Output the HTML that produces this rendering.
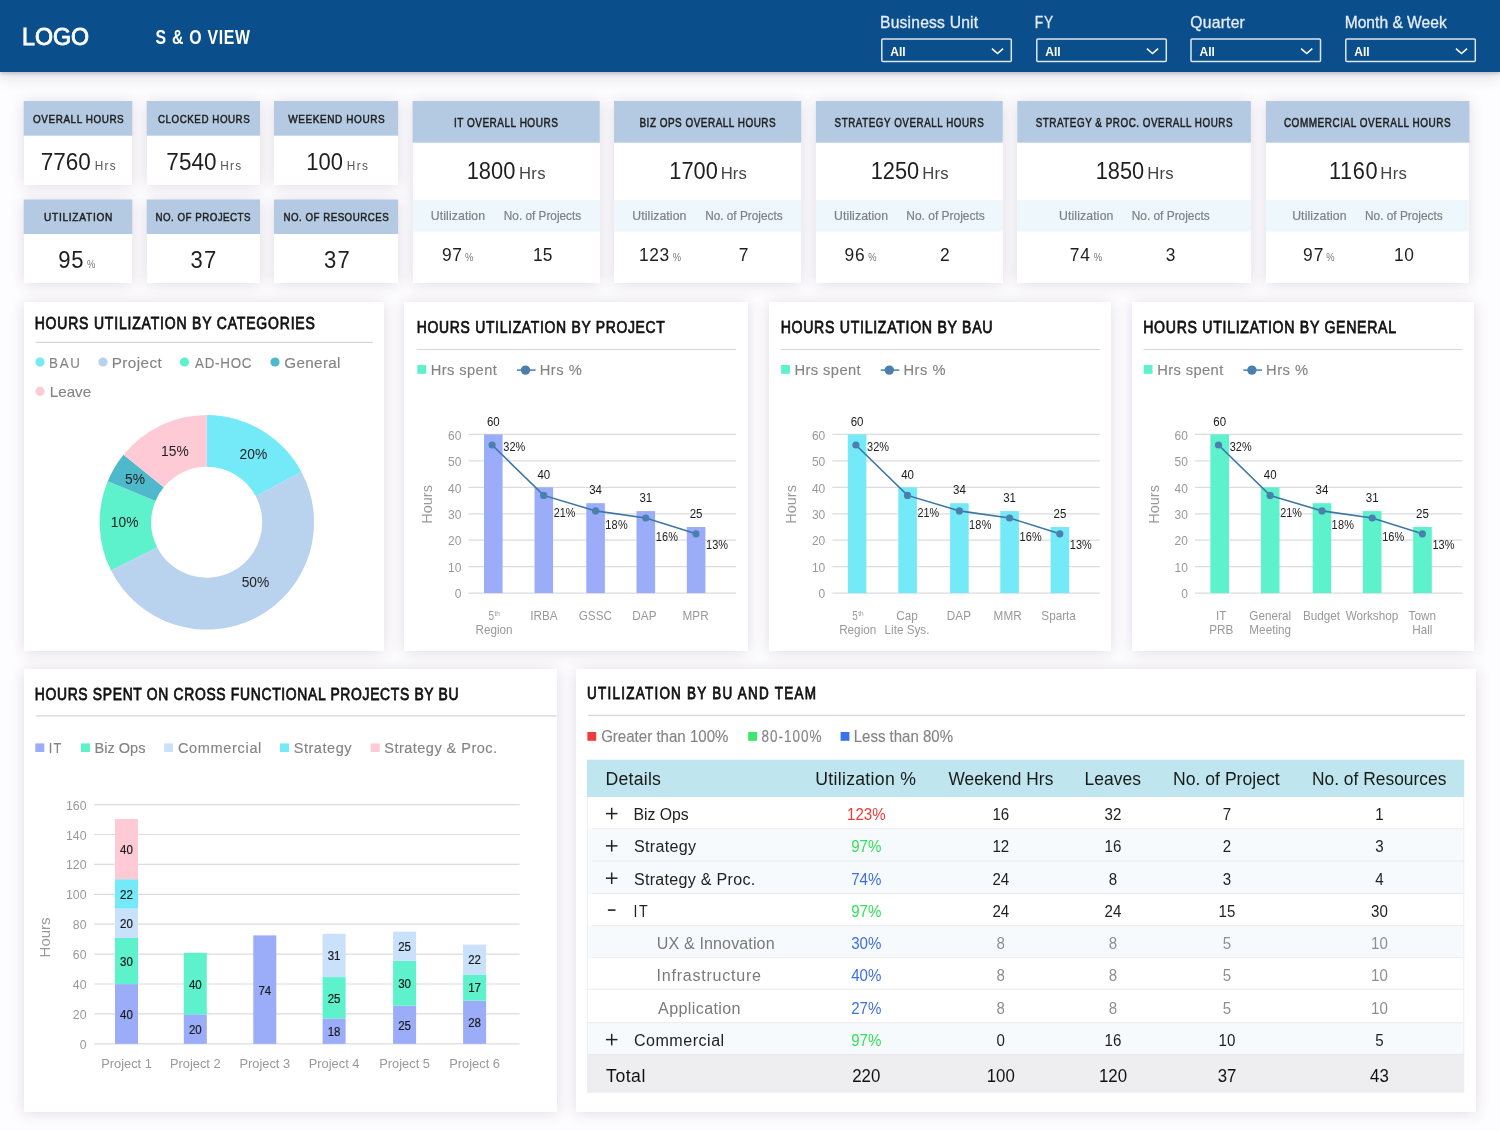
<!DOCTYPE html>
<html><head><meta charset="utf-8"><title>S &amp; O View Dashboard</title>
<style>
html,body{margin:0;padding:0;}
body{width:1500px;height:1131px;overflow:hidden;background:#FDFCFE;font-family:"Liberation Sans", sans-serif;position:relative;}
.hdr{position:absolute;background:#0A4E8B;box-shadow:0 2px 3px rgba(40,40,60,.18),0 5px 14px rgba(40,40,60,.14);z-index:2}
.card{position:absolute;background:#fff;box-shadow:0 1px 14px rgba(60,50,90,.15);}
svg.ov{position:absolute;left:0;top:0;z-index:3;font-family:"Liberation Sans", sans-serif;will-change:transform;}
</style></head><body>
<div class="hdr" style="left:0.0px;top:0.0px;width:1500.0px;height:72.0px;"></div>
<div class="card" style="left:23.7px;top:101.0px;width:108.6px;height:83.7px;"></div>
<div class="card" style="left:23.7px;top:199.5px;width:108.6px;height:83.1px;"></div>
<div class="card" style="left:146.7px;top:101.0px;width:113.3px;height:83.7px;"></div>
<div class="card" style="left:146.7px;top:199.5px;width:113.3px;height:83.1px;"></div>
<div class="card" style="left:274.0px;top:101.0px;width:124.1px;height:83.7px;"></div>
<div class="card" style="left:274.0px;top:199.5px;width:124.1px;height:83.1px;"></div>
<div class="card" style="left:412.6px;top:101.0px;width:187.2px;height:182.3px;"></div>
<div class="card" style="left:614.0px;top:101.0px;width:187.2px;height:182.3px;"></div>
<div class="card" style="left:815.9px;top:101.0px;width:186.9px;height:182.3px;"></div>
<div class="card" style="left:1017.2px;top:101.0px;width:233.7px;height:182.3px;"></div>
<div class="card" style="left:1265.9px;top:101.0px;width:203.5px;height:182.3px;"></div>
<div class="card" style="left:23.8px;top:302.0px;width:360.0px;height:349.2px;"></div>
<div class="card" style="left:404.3px;top:302.3px;width:343.8px;height:348.9px;"></div>
<div class="card" style="left:768.5px;top:302.3px;width:342.3px;height:348.9px;"></div>
<div class="card" style="left:1131.8px;top:302.3px;width:342.5px;height:348.9px;"></div>
<div class="card" style="left:23.7px;top:668.7px;width:533.0px;height:443.3px;"></div>
<div class="card" style="left:575.8px;top:668.7px;width:900.2px;height:442.9px;"></div>
<svg class="ov" width="1500" height="1131" viewBox="0 0 1500 1131">
<text transform="translate(22.10,45.00) scale(0.9385,1)" x="0" y="0" textLength="71.40" lengthAdjust="spacing" font-size="24.71" fill="#fff" stroke="#fff" stroke-width="0.9">LOGO</text>
<text transform="translate(155.54,44.00) scale(0.7774,1)" x="0" y="0" textLength="121.53" lengthAdjust="spacing" font-size="20.35" fill="#fff" font-weight="bold">S &amp; O VIEW</text>
<text transform="translate(880.01,28.40) scale(0.9800,1)" x="0" y="0" textLength="100.10" lengthAdjust="spacing" font-size="15.99" fill="#E6EDF5" stroke="#E6EDF5" stroke-width="0.3">Business Unit</text>
<rect x="881.8" y="38.9" width="129.5" height="22.6" fill="none" stroke="#E1E6EE" stroke-width="1.5" rx="1"/>
<text transform="translate(890.30,55.50) scale(0.9183,1)" x="0" y="0" textLength="16.72" lengthAdjust="spacing" font-size="13.08" fill="#fff" font-weight="bold">All</text>
<path d="M991.9 48.6 L997.5 53.6 L1003.1 48.6" fill="none" stroke="#fff" stroke-width="1.5"/>
<text transform="translate(1034.87,28.40) scale(0.8600,1)" x="0" y="0" textLength="21.43" lengthAdjust="spacing" font-size="15.99" fill="#E6EDF5" stroke="#E6EDF5" stroke-width="0.3">FY</text>
<rect x="1036.8" y="38.9" width="129.5" height="22.6" fill="none" stroke="#E1E6EE" stroke-width="1.5" rx="1"/>
<text transform="translate(1045.30,55.50) scale(0.9183,1)" x="0" y="0" textLength="16.72" lengthAdjust="spacing" font-size="13.08" fill="#fff" font-weight="bold">All</text>
<path d="M1146.9 48.6 L1152.5 53.6 L1158.1 48.6" fill="none" stroke="#fff" stroke-width="1.5"/>
<text transform="translate(1190.36,28.40) scale(0.9800,1)" x="0" y="0" textLength="55.61" lengthAdjust="spacing" font-size="15.99" fill="#E6EDF5" stroke="#E6EDF5" stroke-width="0.3">Quarter</text>
<rect x="1191.0" y="38.9" width="129.5" height="22.6" fill="none" stroke="#E1E6EE" stroke-width="1.5" rx="1"/>
<text transform="translate(1199.50,55.50) scale(0.9183,1)" x="0" y="0" textLength="16.72" lengthAdjust="spacing" font-size="13.08" fill="#fff" font-weight="bold">All</text>
<path d="M1301.1 48.6 L1306.7 53.6 L1312.3 48.6" fill="none" stroke="#fff" stroke-width="1.5"/>
<text transform="translate(1344.72,28.40) scale(0.9723,1)" x="0" y="0" textLength="104.85" lengthAdjust="spacing" font-size="15.99" fill="#E6EDF5" stroke="#E6EDF5" stroke-width="0.3">Month &amp; Week</text>
<rect x="1345.8" y="38.9" width="129.5" height="22.6" fill="none" stroke="#E1E6EE" stroke-width="1.5" rx="1"/>
<text transform="translate(1354.30,55.50) scale(0.9183,1)" x="0" y="0" textLength="16.72" lengthAdjust="spacing" font-size="13.08" fill="#fff" font-weight="bold">All</text>
<path d="M1455.9 48.6 L1461.5 53.6 L1467.1 48.6" fill="none" stroke="#fff" stroke-width="1.5"/>
<rect x="23.7" y="101.0" width="108.6" height="34.7" fill="#B4CAE2"/>
<rect x="23.7" y="199.5" width="108.6" height="34.5" fill="#B4CAE2"/>
<rect x="146.7" y="101.0" width="113.3" height="34.7" fill="#B4CAE2"/>
<rect x="146.7" y="199.5" width="113.3" height="34.5" fill="#B4CAE2"/>
<rect x="274.0" y="101.0" width="124.1" height="34.7" fill="#B4CAE2"/>
<rect x="274.0" y="199.5" width="124.1" height="34.5" fill="#B4CAE2"/>
<text transform="translate(33.03,122.70) scale(0.8435,1)" x="0" y="0" textLength="107.55" lengthAdjust="spacing" font-size="11.77" fill="#1E1E1E" stroke="#1E1E1E" stroke-width="0.5">OVERALL HOURS</text>
<text transform="translate(158.00,122.70) scale(0.8314,1)" x="0" y="0" textLength="110.35" lengthAdjust="spacing" font-size="11.77" fill="#1E1E1E" stroke="#1E1E1E" stroke-width="0.5">CLOCKED HOURS</text>
<text transform="translate(288.36,122.70) scale(0.8508,1)" x="0" y="0" textLength="113.20" lengthAdjust="spacing" font-size="11.77" fill="#1E1E1E" stroke="#1E1E1E" stroke-width="0.5">WEEKEND HOURS</text>
<text transform="translate(44.02,221.20) scale(0.8600,1)" x="0" y="0" textLength="79.43" lengthAdjust="spacing" font-size="11.77" fill="#1E1E1E" stroke="#1E1E1E" stroke-width="0.5">UTILIZATION</text>
<text transform="translate(155.50,221.20) scale(0.8299,1)" x="0" y="0" textLength="114.53" lengthAdjust="spacing" font-size="11.77" fill="#1E1E1E" stroke="#1E1E1E" stroke-width="0.5">NO. OF PROJECTS</text>
<text transform="translate(283.50,221.20) scale(0.8274,1)" x="0" y="0" textLength="127.20" lengthAdjust="spacing" font-size="11.77" fill="#1E1E1E" stroke="#1E1E1E" stroke-width="0.5">NO. OF RESOURCES</text>
<text transform="translate(40.75,169.80) scale(0.9102,1)" x="0" y="0" textLength="54.97" lengthAdjust="spacing" font-size="24.71" fill="#1E1E1E">7760</text>
<text transform="translate(94.63,169.80) scale(0.9800,1)" x="0" y="0" textLength="21.43" lengthAdjust="spacing" font-size="12.06" fill="#555">Hrs</text>
<text transform="translate(166.34,169.80) scale(0.9121,1)" x="0" y="0" textLength="54.97" lengthAdjust="spacing" font-size="24.71" fill="#1E1E1E">7540</text>
<text transform="translate(220.23,169.80) scale(0.9800,1)" x="0" y="0" textLength="21.43" lengthAdjust="spacing" font-size="12.06" fill="#555">Hrs</text>
<text transform="translate(306.32,169.80) scale(0.8911,1)" x="0" y="0" textLength="41.23" lengthAdjust="spacing" font-size="24.71" fill="#1E1E1E">100</text>
<text transform="translate(346.83,169.80) scale(0.9800,1)" x="0" y="0" textLength="21.43" lengthAdjust="spacing" font-size="12.06" fill="#555">Hrs</text>
<text transform="translate(58.37,267.80) scale(0.9200,1)" x="0" y="0" textLength="27.35" lengthAdjust="spacing" font-size="23.98" fill="#1E1E1E">95</text>
<text transform="translate(87.07,267.80) scale(0.8600,1)" x="0" y="0" textLength="12.17" lengthAdjust="spacing" font-size="10.90" fill="#777">%</text>
<text transform="translate(190.46,267.80) scale(0.9200,1)" x="0" y="0" textLength="27.99" lengthAdjust="spacing" font-size="23.98" fill="#1E1E1E">37</text>
<text transform="translate(324.06,267.80) scale(0.9200,1)" x="0" y="0" textLength="27.99" lengthAdjust="spacing" font-size="23.98" fill="#1E1E1E">37</text>
<rect x="412.6" y="101.0" width="187.2" height="41.7" fill="#B4CAE2"/>
<rect x="412.6" y="200.0" width="187.2" height="31.6" fill="#EEF7FB"/>
<text transform="translate(453.88,126.60) scale(0.8299,1)" x="0" y="0" textLength="125.30" lengthAdjust="spacing" font-size="12.06" fill="#1E1E1E" stroke="#1E1E1E" stroke-width="0.5">IT OVERALL HOURS</text>
<text transform="translate(466.63,179.10) scale(0.9133,1)" x="0" y="0" textLength="53.35" lengthAdjust="spacing" font-size="23.98" fill="#1E1E1E">1800</text>
<text transform="translate(518.93,179.10) scale(0.9800,1)" x="0" y="0" textLength="27.21" lengthAdjust="spacing" font-size="17.01" fill="#444">Hrs</text>
<text transform="translate(430.75,220.20) scale(0.9800,1)" x="0" y="0" textLength="55.45" lengthAdjust="spacing" font-size="12.50" fill="#7C8286" stroke="#7C8286" stroke-width="0.2">Utilization</text>
<text transform="translate(503.83,220.20) scale(0.9429,1)" x="0" y="0" textLength="81.98" lengthAdjust="spacing" font-size="12.50" fill="#7C8286" stroke="#7C8286" stroke-width="0.2">No. of Projects</text>
<text transform="translate(441.99,261.00) scale(0.9200,1)" x="0" y="0" textLength="21.62" lengthAdjust="spacing" font-size="18.90" fill="#1E1E1E">97</text>
<text transform="translate(464.97,261.00) scale(0.8600,1)" x="0" y="0" textLength="11.24" lengthAdjust="spacing" font-size="10.90" fill="#777">%</text>
<text transform="translate(532.98,261.00) scale(0.9200,1)" x="0" y="0" textLength="21.04" lengthAdjust="spacing" font-size="18.90" fill="#1E1E1E">15</text>
<rect x="614.0" y="101.0" width="187.2" height="41.7" fill="#B4CAE2"/>
<rect x="614.0" y="200.0" width="187.2" height="31.6" fill="#EEF7FB"/>
<text transform="translate(639.48,126.60) scale(0.8255,1)" x="0" y="0" textLength="164.96" lengthAdjust="spacing" font-size="12.06" fill="#1E1E1E" stroke="#1E1E1E" stroke-width="0.5">BIZ OPS OVERALL HOURS</text>
<text transform="translate(669.34,179.10) scale(0.9093,1)" x="0" y="0" textLength="53.35" lengthAdjust="spacing" font-size="23.98" fill="#1E1E1E">1700</text>
<text transform="translate(720.63,179.10) scale(0.9800,1)" x="0" y="0" textLength="26.81" lengthAdjust="spacing" font-size="17.01" fill="#444">Hrs</text>
<text transform="translate(632.35,220.20) scale(0.9800,1)" x="0" y="0" textLength="55.14" lengthAdjust="spacing" font-size="12.50" fill="#7C8286" stroke="#7C8286" stroke-width="0.2">Utilization</text>
<text transform="translate(705.13,220.20) scale(0.9454,1)" x="0" y="0" textLength="81.98" lengthAdjust="spacing" font-size="12.50" fill="#7C8286" stroke="#7C8286" stroke-width="0.2">No. of Projects</text>
<text transform="translate(638.98,261.00) scale(0.9200,1)" x="0" y="0" textLength="32.70" lengthAdjust="spacing" font-size="18.90" fill="#1E1E1E">123</text>
<text transform="translate(672.67,261.00) scale(0.8600,1)" x="0" y="0" textLength="11.24" lengthAdjust="spacing" font-size="10.90" fill="#777">%</text>
<text transform="translate(738.81,261.00) scale(0.9200,1)" x="0" y="0" textLength="11.59" lengthAdjust="spacing" font-size="18.90" fill="#1E1E1E">7</text>
<rect x="815.9" y="101.0" width="186.9" height="41.7" fill="#B4CAE2"/>
<rect x="815.9" y="200.0" width="186.9" height="31.6" fill="#EEF7FB"/>
<text transform="translate(834.56,126.60) scale(0.8120,1)" x="0" y="0" textLength="183.73" lengthAdjust="spacing" font-size="12.06" fill="#1E1E1E" stroke="#1E1E1E" stroke-width="0.5">STRATEGY OVERALL HOURS</text>
<text transform="translate(870.64,179.10) scale(0.9093,1)" x="0" y="0" textLength="53.35" lengthAdjust="spacing" font-size="23.98" fill="#1E1E1E">1250</text>
<text transform="translate(922.33,179.10) scale(0.9800,1)" x="0" y="0" textLength="26.81" lengthAdjust="spacing" font-size="17.01" fill="#444">Hrs</text>
<text transform="translate(834.05,220.20) scale(0.9800,1)" x="0" y="0" textLength="55.14" lengthAdjust="spacing" font-size="12.50" fill="#7C8286" stroke="#7C8286" stroke-width="0.2">Utilization</text>
<text transform="translate(906.32,220.20) scale(0.9565,1)" x="0" y="0" textLength="81.98" lengthAdjust="spacing" font-size="12.50" fill="#7C8286" stroke="#7C8286" stroke-width="0.2">No. of Projects</text>
<text transform="translate(844.49,261.00) scale(0.9200,1)" x="0" y="0" textLength="21.93" lengthAdjust="spacing" font-size="18.90" fill="#1E1E1E">96</text>
<text transform="translate(868.27,261.00) scale(0.8600,1)" x="0" y="0" textLength="11.59" lengthAdjust="spacing" font-size="10.90" fill="#777">%</text>
<text transform="translate(940.03,261.00) scale(0.9200,1)" x="0" y="0" textLength="12.12" lengthAdjust="spacing" font-size="18.90" fill="#1E1E1E">2</text>
<rect x="1017.2" y="101.0" width="233.7" height="41.7" fill="#B4CAE2"/>
<rect x="1017.2" y="200.0" width="233.7" height="31.6" fill="#EEF7FB"/>
<text transform="translate(1035.65,126.60) scale(0.8181,1)" x="0" y="0" textLength="240.67" lengthAdjust="spacing" font-size="12.06" fill="#1E1E1E" stroke="#1E1E1E" stroke-width="0.5">STRATEGY &amp; PROC. OVERALL HOURS</text>
<text transform="translate(1095.64,179.10) scale(0.9093,1)" x="0" y="0" textLength="53.35" lengthAdjust="spacing" font-size="23.98" fill="#1E1E1E">1850</text>
<text transform="translate(1147.33,179.10) scale(0.9800,1)" x="0" y="0" textLength="26.81" lengthAdjust="spacing" font-size="17.01" fill="#444">Hrs</text>
<text transform="translate(1058.95,220.20) scale(0.9800,1)" x="0" y="0" textLength="55.55" lengthAdjust="spacing" font-size="12.50" fill="#7C8286" stroke="#7C8286" stroke-width="0.2">Utilization</text>
<text transform="translate(1131.73,220.20) scale(0.9503,1)" x="0" y="0" textLength="81.98" lengthAdjust="spacing" font-size="12.50" fill="#7C8286" stroke="#7C8286" stroke-width="0.2">No. of Projects</text>
<text transform="translate(1069.71,261.00) scale(0.9200,1)" x="0" y="0" textLength="21.85" lengthAdjust="spacing" font-size="18.90" fill="#1E1E1E">74</text>
<text transform="translate(1093.67,261.00) scale(0.8600,1)" x="0" y="0" textLength="11.59" lengthAdjust="spacing" font-size="10.90" fill="#777">%</text>
<text transform="translate(1165.64,261.00) scale(0.9200,1)" x="0" y="0" textLength="11.66" lengthAdjust="spacing" font-size="18.90" fill="#1E1E1E">3</text>
<rect x="1265.9" y="101.0" width="203.5" height="41.7" fill="#B4CAE2"/>
<rect x="1265.9" y="200.0" width="203.5" height="31.6" fill="#EEF7FB"/>
<text transform="translate(1283.89,126.60) scale(0.8271,1)" x="0" y="0" textLength="201.74" lengthAdjust="spacing" font-size="12.06" fill="#1E1E1E" stroke="#1E1E1E" stroke-width="0.5">COMMERCIAL OVERALL HOURS</text>
<text transform="translate(1329.04,179.10) scale(0.9093,1)" x="0" y="0" textLength="53.35" lengthAdjust="spacing" font-size="23.98" fill="#1E1E1E">1160</text>
<text transform="translate(1380.33,179.10) scale(0.9800,1)" x="0" y="0" textLength="27.11" lengthAdjust="spacing" font-size="17.01" fill="#444">Hrs</text>
<text transform="translate(1292.15,220.20) scale(0.9800,1)" x="0" y="0" textLength="55.45" lengthAdjust="spacing" font-size="12.50" fill="#7C8286" stroke="#7C8286" stroke-width="0.2">Utilization</text>
<text transform="translate(1365.03,220.20) scale(0.9466,1)" x="0" y="0" textLength="81.98" lengthAdjust="spacing" font-size="12.50" fill="#7C8286" stroke="#7C8286" stroke-width="0.2">No. of Projects</text>
<text transform="translate(1302.99,261.00) scale(0.9200,1)" x="0" y="0" textLength="22.16" lengthAdjust="spacing" font-size="18.90" fill="#1E1E1E">97</text>
<text transform="translate(1326.37,261.00) scale(0.8600,1)" x="0" y="0" textLength="11.71" lengthAdjust="spacing" font-size="10.90" fill="#777">%</text>
<text transform="translate(1394.08,261.00) scale(0.9200,1)" x="0" y="0" textLength="21.53" lengthAdjust="spacing" font-size="18.90" fill="#1E1E1E">10</text>
<text transform="translate(34.65,329.20) scale(0.8600,1)" x="0" y="0" textLength="325.80" lengthAdjust="spacing" font-size="16.28" fill="#111" stroke="#111" stroke-width="0.75">HOURS UTILIZATION BY CATEGORIES</text>
<line x1="35.8" y1="342.3" x2="372.9" y2="342.3" stroke="#D6D6D8" stroke-width="1.2"/>
<circle cx="40.0" cy="362.0" r="4.6" fill="#74E9F8"/>
<text transform="translate(49.10,367.90) scale(0.8600,1)" x="0" y="0" textLength="35.96" lengthAdjust="spacing" font-size="15.55" fill="#848484" stroke="#848484" stroke-width="0.15">BAU</text>
<circle cx="103.0" cy="362.0" r="4.6" fill="#B9D2EE"/>
<text transform="translate(111.75,367.90) scale(0.9800,1)" x="0" y="0" textLength="51.08" lengthAdjust="spacing" font-size="15.55" fill="#848484" stroke="#848484" stroke-width="0.15">Project</text>
<circle cx="184.5" cy="362.0" r="4.6" fill="#5DF2CC"/>
<text transform="translate(194.97,367.90) scale(0.8577,1)" x="0" y="0" textLength="65.91" lengthAdjust="spacing" font-size="15.55" fill="#848484" stroke="#848484" stroke-width="0.15">AD-HOC</text>
<circle cx="275.0" cy="362.0" r="4.6" fill="#4DB9CA"/>
<text transform="translate(284.23,367.90) scale(0.9800,1)" x="0" y="0" textLength="57.43" lengthAdjust="spacing" font-size="15.55" fill="#848484" stroke="#848484" stroke-width="0.15">General</text>
<circle cx="40.0" cy="391.3" r="4.6" fill="#FECAD5"/>
<text transform="translate(49.75,397.20) scale(0.9775,1)" x="0" y="0" textLength="42.37" lengthAdjust="spacing" font-size="15.55" fill="#848484" stroke="#848484" stroke-width="0.15">Leave</text>
<path d="M206.80 415.10 A107.2 107.2 0 0 1 301.45 471.97 L255.80 496.24 A55.5 55.5 0 0 0 206.80 466.80 Z" fill="#74E9F8"/>
<path d="M301.45 471.97 A107.2 107.2 0 1 1 110.95 570.30 L157.17 547.15 A55.5 55.5 0 1 0 255.80 496.24 Z" fill="#B9D2EE"/>
<path d="M110.95 570.30 A107.2 107.2 0 0 1 107.76 481.28 L155.52 501.06 A55.5 55.5 0 0 0 157.17 547.15 Z" fill="#5DF2CC"/>
<path d="M107.76 481.28 A107.2 107.2 0 0 1 123.49 454.84 L163.67 487.37 A55.5 55.5 0 0 0 155.52 501.06 Z" fill="#4DB9CA"/>
<path d="M123.49 454.84 A107.2 107.2 0 0 1 206.80 415.10 L206.80 466.80 A55.5 55.5 0 0 0 163.67 487.37 Z" fill="#FECAD5"/>
<text transform="translate(174.90,455.60) scale(0.9500,1)" x="0" y="0" font-size="14.53" fill="#222" text-anchor="middle">15%</text>
<text transform="translate(253.40,459.20) scale(0.9500,1)" x="0" y="0" font-size="14.53" fill="#222" text-anchor="middle">20%</text>
<text transform="translate(135.00,483.80) scale(0.9500,1)" x="0" y="0" font-size="14.53" fill="#222" text-anchor="middle">5%</text>
<text transform="translate(124.60,527.10) scale(0.9500,1)" x="0" y="0" font-size="14.53" fill="#222" text-anchor="middle">10%</text>
<text transform="translate(255.50,586.50) scale(0.9500,1)" x="0" y="0" font-size="14.53" fill="#222" text-anchor="middle">50%</text>
<text transform="translate(416.86,332.90) scale(0.8336,1)" x="0" y="0" textLength="297.45" lengthAdjust="spacing" font-size="16.72" fill="#111" stroke="#111" stroke-width="0.75">HOURS UTILIZATION BY PROJECT</text>
<line x1="417.0" y1="349.5" x2="736.0" y2="349.5" stroke="#D6D6D8" stroke-width="1.2"/>
<rect x="417.3" y="365.0" width="8.8" height="8.8" fill="#5DF2CC"/>
<text transform="translate(430.80,375.20) scale(0.9800,1)" x="0" y="0" textLength="67.36" lengthAdjust="spacing" font-size="14.97" fill="#848484" stroke="#848484" stroke-width="0.15">Hrs spent</text>
<line x1="516.9" y1="370.1" x2="535.6" y2="370.1" stroke="#4B7FAE" stroke-width="1.5"/>
<circle cx="525.5" cy="370.1" r="4.7" fill="#4B7FAE"/>
<text transform="translate(539.70,375.20) scale(0.9800,1)" x="0" y="0" textLength="42.88" lengthAdjust="spacing" font-size="14.97" fill="#848484" stroke="#848484" stroke-width="0.15">Hrs %</text>
<line x1="468.5" y1="593.1" x2="736.0" y2="593.1" stroke="#DCDCDE" stroke-width="1.2"/>
<text transform="translate(461.50,598.30) scale(0.9200,1)" x="0" y="0" font-size="13.08" fill="#999999" text-anchor="end">0</text>
<line x1="468.5" y1="566.6" x2="736.0" y2="566.6" stroke="#DCDCDE" stroke-width="1.2"/>
<text transform="translate(461.50,571.85) scale(0.9200,1)" x="0" y="0" font-size="13.08" fill="#999999" text-anchor="end">10</text>
<line x1="468.5" y1="540.2" x2="736.0" y2="540.2" stroke="#DCDCDE" stroke-width="1.2"/>
<text transform="translate(461.50,545.40) scale(0.9200,1)" x="0" y="0" font-size="13.08" fill="#999999" text-anchor="end">20</text>
<line x1="468.5" y1="513.8" x2="736.0" y2="513.8" stroke="#DCDCDE" stroke-width="1.2"/>
<text transform="translate(461.50,518.95) scale(0.9200,1)" x="0" y="0" font-size="13.08" fill="#999999" text-anchor="end">30</text>
<line x1="468.5" y1="487.3" x2="736.0" y2="487.3" stroke="#DCDCDE" stroke-width="1.2"/>
<text transform="translate(461.50,492.50) scale(0.9200,1)" x="0" y="0" font-size="13.08" fill="#999999" text-anchor="end">40</text>
<line x1="468.5" y1="460.9" x2="736.0" y2="460.9" stroke="#DCDCDE" stroke-width="1.2"/>
<text transform="translate(461.50,466.05) scale(0.9200,1)" x="0" y="0" font-size="13.08" fill="#999999" text-anchor="end">50</text>
<line x1="468.5" y1="434.4" x2="736.0" y2="434.4" stroke="#DCDCDE" stroke-width="1.2"/>
<text transform="translate(461.50,439.60) scale(0.9200,1)" x="0" y="0" font-size="13.08" fill="#999999" text-anchor="end">60</text>
<text transform="translate(432.3,504.4) rotate(-90)" font-size="14.5" fill="#999999" text-anchor="middle">Hours</text>
<rect x="484.0" y="434.4" width="18.6" height="158.7" fill="#9BADF8"/>
<text transform="translate(493.30,425.60) scale(0.9200,1)" x="0" y="0" font-size="12.50" fill="#1a1a1a" text-anchor="middle">60</text>
<rect x="534.5" y="487.3" width="18.6" height="105.8" fill="#9BADF8"/>
<text transform="translate(543.80,478.50) scale(0.9200,1)" x="0" y="0" font-size="12.50" fill="#1a1a1a" text-anchor="middle">40</text>
<rect x="586.3" y="503.2" width="18.6" height="89.9" fill="#9BADF8"/>
<text transform="translate(595.60,494.37) scale(0.9200,1)" x="0" y="0" font-size="12.50" fill="#1a1a1a" text-anchor="middle">34</text>
<rect x="636.5" y="511.1" width="18.6" height="82.0" fill="#9BADF8"/>
<text transform="translate(645.80,502.31) scale(0.9200,1)" x="0" y="0" font-size="12.50" fill="#1a1a1a" text-anchor="middle">31</text>
<rect x="686.8" y="527.0" width="18.6" height="66.1" fill="#9BADF8"/>
<text transform="translate(696.10,518.18) scale(0.9200,1)" x="0" y="0" font-size="12.50" fill="#1a1a1a" text-anchor="middle">25</text>
<polyline points="492.1,445.0 543.7,495.4 595.6,510.9 645.8,518.0 696.0,533.8" fill="none" stroke="#3C76A6" stroke-width="1.6"/>
<circle cx="492.1" cy="445.0" r="3.6" fill="#4B7FAE"/>
<circle cx="543.7" cy="495.4" r="3.6" fill="#4B7FAE"/>
<circle cx="595.6" cy="510.9" r="3.6" fill="#4B7FAE"/>
<circle cx="645.8" cy="518.0" r="3.6" fill="#4B7FAE"/>
<circle cx="696.0" cy="533.8" r="3.6" fill="#4B7FAE"/>
<text transform="translate(503.28,450.50) scale(0.9200,1)" x="0" y="0" textLength="23.92" lengthAdjust="spacing" font-size="11.92" fill="#222">32%</text>
<text transform="translate(553.76,517.20) scale(0.9067,1)" x="0" y="0" textLength="23.85" lengthAdjust="spacing" font-size="11.92" fill="#222">21%</text>
<text transform="translate(605.16,528.60) scale(0.9200,1)" x="0" y="0" textLength="24.48" lengthAdjust="spacing" font-size="11.92" fill="#222">18%</text>
<text transform="translate(655.76,541.40) scale(0.9200,1)" x="0" y="0" textLength="24.05" lengthAdjust="spacing" font-size="11.92" fill="#222">16%</text>
<text transform="translate(706.07,549.30) scale(0.9191,1)" x="0" y="0" textLength="23.85" lengthAdjust="spacing" font-size="11.92" fill="#222">13%</text>
<text transform="translate(488.50,619.70) scale(0.8024,1)" x="0" y="0" textLength="6.87" lengthAdjust="spacing" font-size="12.35" fill="#999999">5</text>
<text transform="translate(494.40,615.60) scale(0.9000,1)" x="0" y="0" font-size="7.20" fill="#999999">th</text>
<text transform="translate(494.00,633.90) scale(0.9500,1)" x="0" y="0" font-size="12.35" fill="#999999" text-anchor="middle">Region</text>
<text transform="translate(544.00,619.70) scale(0.9500,1)" x="0" y="0" font-size="12.35" fill="#999999" text-anchor="middle">IRBA</text>
<text transform="translate(595.30,619.70) scale(0.9500,1)" x="0" y="0" font-size="12.35" fill="#999999" text-anchor="middle">GSSC</text>
<text transform="translate(644.40,619.70) scale(0.9500,1)" x="0" y="0" font-size="12.35" fill="#999999" text-anchor="middle">DAP</text>
<text transform="translate(695.60,619.70) scale(0.9500,1)" x="0" y="0" font-size="12.35" fill="#999999" text-anchor="middle">MPR</text>
<text transform="translate(780.64,332.90) scale(0.8458,1)" x="0" y="0" textLength="250.46" lengthAdjust="spacing" font-size="16.72" fill="#111" stroke="#111" stroke-width="0.75">HOURS UTILIZATION BY BAU</text>
<line x1="780.8" y1="349.5" x2="1099.8" y2="349.5" stroke="#D6D6D8" stroke-width="1.2"/>
<rect x="781.1" y="365.0" width="8.8" height="8.8" fill="#5DF2CC"/>
<text transform="translate(794.60,375.20) scale(0.9800,1)" x="0" y="0" textLength="67.36" lengthAdjust="spacing" font-size="14.97" fill="#848484" stroke="#848484" stroke-width="0.15">Hrs spent</text>
<line x1="880.7" y1="370.1" x2="899.4" y2="370.1" stroke="#4B7FAE" stroke-width="1.5"/>
<circle cx="889.3" cy="370.1" r="4.7" fill="#4B7FAE"/>
<text transform="translate(903.50,375.20) scale(0.9800,1)" x="0" y="0" textLength="42.88" lengthAdjust="spacing" font-size="14.97" fill="#848484" stroke="#848484" stroke-width="0.15">Hrs %</text>
<line x1="832.3" y1="593.1" x2="1099.8" y2="593.1" stroke="#DCDCDE" stroke-width="1.2"/>
<text transform="translate(825.30,598.30) scale(0.9200,1)" x="0" y="0" font-size="13.08" fill="#999999" text-anchor="end">0</text>
<line x1="832.3" y1="566.6" x2="1099.8" y2="566.6" stroke="#DCDCDE" stroke-width="1.2"/>
<text transform="translate(825.30,571.85) scale(0.9200,1)" x="0" y="0" font-size="13.08" fill="#999999" text-anchor="end">10</text>
<line x1="832.3" y1="540.2" x2="1099.8" y2="540.2" stroke="#DCDCDE" stroke-width="1.2"/>
<text transform="translate(825.30,545.40) scale(0.9200,1)" x="0" y="0" font-size="13.08" fill="#999999" text-anchor="end">20</text>
<line x1="832.3" y1="513.8" x2="1099.8" y2="513.8" stroke="#DCDCDE" stroke-width="1.2"/>
<text transform="translate(825.30,518.95) scale(0.9200,1)" x="0" y="0" font-size="13.08" fill="#999999" text-anchor="end">30</text>
<line x1="832.3" y1="487.3" x2="1099.8" y2="487.3" stroke="#DCDCDE" stroke-width="1.2"/>
<text transform="translate(825.30,492.50) scale(0.9200,1)" x="0" y="0" font-size="13.08" fill="#999999" text-anchor="end">40</text>
<line x1="832.3" y1="460.9" x2="1099.8" y2="460.9" stroke="#DCDCDE" stroke-width="1.2"/>
<text transform="translate(825.30,466.05) scale(0.9200,1)" x="0" y="0" font-size="13.08" fill="#999999" text-anchor="end">50</text>
<line x1="832.3" y1="434.4" x2="1099.8" y2="434.4" stroke="#DCDCDE" stroke-width="1.2"/>
<text transform="translate(825.30,439.60) scale(0.9200,1)" x="0" y="0" font-size="13.08" fill="#999999" text-anchor="end">60</text>
<text transform="translate(796.1,504.4) rotate(-90)" font-size="14.5" fill="#999999" text-anchor="middle">Hours</text>
<rect x="847.8" y="434.4" width="18.6" height="158.7" fill="#74E9F8"/>
<text transform="translate(857.10,425.60) scale(0.9200,1)" x="0" y="0" font-size="12.50" fill="#1a1a1a" text-anchor="middle">60</text>
<rect x="898.3" y="487.3" width="18.6" height="105.8" fill="#74E9F8"/>
<text transform="translate(907.60,478.50) scale(0.9200,1)" x="0" y="0" font-size="12.50" fill="#1a1a1a" text-anchor="middle">40</text>
<rect x="950.1" y="503.2" width="18.6" height="89.9" fill="#74E9F8"/>
<text transform="translate(959.40,494.37) scale(0.9200,1)" x="0" y="0" font-size="12.50" fill="#1a1a1a" text-anchor="middle">34</text>
<rect x="1000.3" y="511.1" width="18.6" height="82.0" fill="#74E9F8"/>
<text transform="translate(1009.60,502.31) scale(0.9200,1)" x="0" y="0" font-size="12.50" fill="#1a1a1a" text-anchor="middle">31</text>
<rect x="1050.6" y="527.0" width="18.6" height="66.1" fill="#74E9F8"/>
<text transform="translate(1059.90,518.18) scale(0.9200,1)" x="0" y="0" font-size="12.50" fill="#1a1a1a" text-anchor="middle">25</text>
<polyline points="855.9,445.0 907.5,495.4 959.4,510.9 1009.6,518.0 1059.8,533.8" fill="none" stroke="#3C76A6" stroke-width="1.6"/>
<circle cx="855.9" cy="445.0" r="3.6" fill="#4B7FAE"/>
<circle cx="907.5" cy="495.4" r="3.6" fill="#4B7FAE"/>
<circle cx="959.4" cy="510.9" r="3.6" fill="#4B7FAE"/>
<circle cx="1009.6" cy="518.0" r="3.6" fill="#4B7FAE"/>
<circle cx="1059.8" cy="533.8" r="3.6" fill="#4B7FAE"/>
<text transform="translate(867.08,450.50) scale(0.9200,1)" x="0" y="0" textLength="23.92" lengthAdjust="spacing" font-size="11.92" fill="#222">32%</text>
<text transform="translate(917.56,517.20) scale(0.9067,1)" x="0" y="0" textLength="23.85" lengthAdjust="spacing" font-size="11.92" fill="#222">21%</text>
<text transform="translate(968.96,528.60) scale(0.9200,1)" x="0" y="0" textLength="24.48" lengthAdjust="spacing" font-size="11.92" fill="#222">18%</text>
<text transform="translate(1019.56,541.40) scale(0.9200,1)" x="0" y="0" textLength="24.05" lengthAdjust="spacing" font-size="11.92" fill="#222">16%</text>
<text transform="translate(1069.87,549.30) scale(0.9191,1)" x="0" y="0" textLength="23.85" lengthAdjust="spacing" font-size="11.92" fill="#222">13%</text>
<text transform="translate(852.30,619.70) scale(0.8024,1)" x="0" y="0" textLength="6.87" lengthAdjust="spacing" font-size="12.35" fill="#999999">5</text>
<text transform="translate(858.20,615.60) scale(0.9000,1)" x="0" y="0" font-size="7.20" fill="#999999">th</text>
<text transform="translate(857.70,633.90) scale(0.9500,1)" x="0" y="0" font-size="12.35" fill="#999999" text-anchor="middle">Region</text>
<text transform="translate(907.00,619.70) scale(0.9500,1)" x="0" y="0" font-size="12.35" fill="#999999" text-anchor="middle">Cap</text>
<text transform="translate(907.00,633.90) scale(0.9500,1)" x="0" y="0" font-size="12.35" fill="#999999" text-anchor="middle">Lite Sys.</text>
<text transform="translate(958.90,619.70) scale(0.9500,1)" x="0" y="0" font-size="12.35" fill="#999999" text-anchor="middle">DAP</text>
<text transform="translate(1007.60,619.70) scale(0.9500,1)" x="0" y="0" font-size="12.35" fill="#999999" text-anchor="middle">MMR</text>
<text transform="translate(1058.60,619.70) scale(0.9500,1)" x="0" y="0" font-size="12.35" fill="#999999" text-anchor="middle">Sparta</text>
<text transform="translate(1143.24,332.90) scale(0.8443,1)" x="0" y="0" textLength="299.46" lengthAdjust="spacing" font-size="16.72" fill="#111" stroke="#111" stroke-width="0.75">HOURS UTILIZATION BY GENERAL</text>
<line x1="1143.4" y1="349.5" x2="1462.4" y2="349.5" stroke="#D6D6D8" stroke-width="1.2"/>
<rect x="1143.7" y="365.0" width="8.8" height="8.8" fill="#5DF2CC"/>
<text transform="translate(1157.20,375.20) scale(0.9800,1)" x="0" y="0" textLength="67.36" lengthAdjust="spacing" font-size="14.97" fill="#848484" stroke="#848484" stroke-width="0.15">Hrs spent</text>
<line x1="1243.3" y1="370.1" x2="1262.0" y2="370.1" stroke="#4B7FAE" stroke-width="1.5"/>
<circle cx="1251.9" cy="370.1" r="4.7" fill="#4B7FAE"/>
<text transform="translate(1266.10,375.20) scale(0.9800,1)" x="0" y="0" textLength="42.88" lengthAdjust="spacing" font-size="14.97" fill="#848484" stroke="#848484" stroke-width="0.15">Hrs %</text>
<line x1="1194.9" y1="593.1" x2="1462.4" y2="593.1" stroke="#DCDCDE" stroke-width="1.2"/>
<text transform="translate(1187.90,598.30) scale(0.9200,1)" x="0" y="0" font-size="13.08" fill="#999999" text-anchor="end">0</text>
<line x1="1194.9" y1="566.6" x2="1462.4" y2="566.6" stroke="#DCDCDE" stroke-width="1.2"/>
<text transform="translate(1187.90,571.85) scale(0.9200,1)" x="0" y="0" font-size="13.08" fill="#999999" text-anchor="end">10</text>
<line x1="1194.9" y1="540.2" x2="1462.4" y2="540.2" stroke="#DCDCDE" stroke-width="1.2"/>
<text transform="translate(1187.90,545.40) scale(0.9200,1)" x="0" y="0" font-size="13.08" fill="#999999" text-anchor="end">20</text>
<line x1="1194.9" y1="513.8" x2="1462.4" y2="513.8" stroke="#DCDCDE" stroke-width="1.2"/>
<text transform="translate(1187.90,518.95) scale(0.9200,1)" x="0" y="0" font-size="13.08" fill="#999999" text-anchor="end">30</text>
<line x1="1194.9" y1="487.3" x2="1462.4" y2="487.3" stroke="#DCDCDE" stroke-width="1.2"/>
<text transform="translate(1187.90,492.50) scale(0.9200,1)" x="0" y="0" font-size="13.08" fill="#999999" text-anchor="end">40</text>
<line x1="1194.9" y1="460.9" x2="1462.4" y2="460.9" stroke="#DCDCDE" stroke-width="1.2"/>
<text transform="translate(1187.90,466.05) scale(0.9200,1)" x="0" y="0" font-size="13.08" fill="#999999" text-anchor="end">50</text>
<line x1="1194.9" y1="434.4" x2="1462.4" y2="434.4" stroke="#DCDCDE" stroke-width="1.2"/>
<text transform="translate(1187.90,439.60) scale(0.9200,1)" x="0" y="0" font-size="13.08" fill="#999999" text-anchor="end">60</text>
<text transform="translate(1158.7,504.4) rotate(-90)" font-size="14.5" fill="#999999" text-anchor="middle">Hours</text>
<rect x="1210.4" y="434.4" width="18.6" height="158.7" fill="#5DF2CC"/>
<text transform="translate(1219.70,425.60) scale(0.9200,1)" x="0" y="0" font-size="12.50" fill="#1a1a1a" text-anchor="middle">60</text>
<rect x="1260.9" y="487.3" width="18.6" height="105.8" fill="#5DF2CC"/>
<text transform="translate(1270.20,478.50) scale(0.9200,1)" x="0" y="0" font-size="12.50" fill="#1a1a1a" text-anchor="middle">40</text>
<rect x="1312.7" y="503.2" width="18.6" height="89.9" fill="#5DF2CC"/>
<text transform="translate(1322.00,494.37) scale(0.9200,1)" x="0" y="0" font-size="12.50" fill="#1a1a1a" text-anchor="middle">34</text>
<rect x="1362.9" y="511.1" width="18.6" height="82.0" fill="#5DF2CC"/>
<text transform="translate(1372.20,502.31) scale(0.9200,1)" x="0" y="0" font-size="12.50" fill="#1a1a1a" text-anchor="middle">31</text>
<rect x="1413.2" y="527.0" width="18.6" height="66.1" fill="#5DF2CC"/>
<text transform="translate(1422.50,518.18) scale(0.9200,1)" x="0" y="0" font-size="12.50" fill="#1a1a1a" text-anchor="middle">25</text>
<polyline points="1218.5,445.0 1270.1,495.4 1322.0,510.9 1372.2,518.0 1422.4,533.8" fill="none" stroke="#3C76A6" stroke-width="1.6"/>
<circle cx="1218.5" cy="445.0" r="3.6" fill="#4B7FAE"/>
<circle cx="1270.1" cy="495.4" r="3.6" fill="#4B7FAE"/>
<circle cx="1322.0" cy="510.9" r="3.6" fill="#4B7FAE"/>
<circle cx="1372.2" cy="518.0" r="3.6" fill="#4B7FAE"/>
<circle cx="1422.4" cy="533.8" r="3.6" fill="#4B7FAE"/>
<text transform="translate(1229.68,450.50) scale(0.9200,1)" x="0" y="0" textLength="23.92" lengthAdjust="spacing" font-size="11.92" fill="#222">32%</text>
<text transform="translate(1280.16,517.20) scale(0.9067,1)" x="0" y="0" textLength="23.85" lengthAdjust="spacing" font-size="11.92" fill="#222">21%</text>
<text transform="translate(1331.56,528.60) scale(0.9200,1)" x="0" y="0" textLength="24.48" lengthAdjust="spacing" font-size="11.92" fill="#222">18%</text>
<text transform="translate(1382.16,541.40) scale(0.9200,1)" x="0" y="0" textLength="24.05" lengthAdjust="spacing" font-size="11.92" fill="#222">16%</text>
<text transform="translate(1432.47,549.30) scale(0.9191,1)" x="0" y="0" textLength="23.85" lengthAdjust="spacing" font-size="11.92" fill="#222">13%</text>
<text transform="translate(1221.20,619.70) scale(0.9500,1)" x="0" y="0" font-size="12.35" fill="#999999" text-anchor="middle">IT</text>
<text transform="translate(1221.20,633.90) scale(0.9500,1)" x="0" y="0" font-size="12.35" fill="#999999" text-anchor="middle">PRB</text>
<text transform="translate(1270.20,619.70) scale(0.9500,1)" x="0" y="0" font-size="12.35" fill="#999999" text-anchor="middle">General</text>
<text transform="translate(1270.20,633.90) scale(0.9500,1)" x="0" y="0" font-size="12.35" fill="#999999" text-anchor="middle">Meeting</text>
<text transform="translate(1321.50,619.70) scale(0.9500,1)" x="0" y="0" font-size="12.35" fill="#999999" text-anchor="middle">Budget</text>
<text transform="translate(1372.00,619.70) scale(0.9500,1)" x="0" y="0" font-size="12.35" fill="#999999" text-anchor="middle">Workshop</text>
<text transform="translate(1422.30,619.70) scale(0.9500,1)" x="0" y="0" font-size="12.35" fill="#999999" text-anchor="middle">Town</text>
<text transform="translate(1422.30,633.90) scale(0.9500,1)" x="0" y="0" font-size="12.35" fill="#999999" text-anchor="middle">Hall</text>
<text transform="translate(34.76,699.50) scale(0.8531,1)" x="0" y="0" textLength="496.80" lengthAdjust="spacing" font-size="16.28" fill="#111" stroke="#111" stroke-width="0.75">HOURS SPENT ON CROSS FUNCTIONAL PROJECTS BY BU</text>
<line x1="35.9" y1="715.8" x2="556.7" y2="715.8" stroke="#D6D6D8" stroke-width="1.2"/>
<rect x="35.3" y="743.4" width="9.0" height="8.6" fill="#9BADF8"/>
<text transform="translate(48.72,752.70) scale(0.8600,1)" x="0" y="0" textLength="14.62" lengthAdjust="spacing" font-size="14.83" fill="#848484" stroke="#848484" stroke-width="0.15">IT</text>
<rect x="81.0" y="743.4" width="9.0" height="8.6" fill="#5DF2CC"/>
<text transform="translate(94.41,752.70) scale(0.9800,1)" x="0" y="0" textLength="52.16" lengthAdjust="spacing" font-size="14.83" fill="#848484" stroke="#848484" stroke-width="0.15">Biz Ops</text>
<rect x="164.1" y="743.4" width="9.0" height="8.6" fill="#C9E1FB"/>
<text transform="translate(177.96,752.70) scale(0.9800,1)" x="0" y="0" textLength="85.11" lengthAdjust="spacing" font-size="14.83" fill="#848484" stroke="#848484" stroke-width="0.15">Commercial</text>
<rect x="280.0" y="743.4" width="9.0" height="8.6" fill="#74E9F8"/>
<text transform="translate(293.64,752.70) scale(0.9800,1)" x="0" y="0" textLength="59.17" lengthAdjust="spacing" font-size="14.83" fill="#848484" stroke="#848484" stroke-width="0.15">Strategy</text>
<rect x="370.7" y="743.4" width="9.0" height="8.6" fill="#FECAD5"/>
<text transform="translate(384.34,752.70) scale(0.9800,1)" x="0" y="0" textLength="114.99" lengthAdjust="spacing" font-size="14.83" fill="#848484" stroke="#848484" stroke-width="0.15">Strategy &amp; Proc.</text>
<line x1="94.1" y1="1043.8" x2="519.6" y2="1043.8" stroke="#DCDCDE" stroke-width="1.2"/>
<text transform="translate(86.50,1048.80) scale(0.9200,1)" x="0" y="0" font-size="13.37" fill="#999999" text-anchor="end">0</text>
<line x1="94.1" y1="1013.9" x2="519.6" y2="1013.9" stroke="#DCDCDE" stroke-width="1.2"/>
<text transform="translate(86.50,1018.90) scale(0.9200,1)" x="0" y="0" font-size="13.37" fill="#999999" text-anchor="end">20</text>
<line x1="94.1" y1="984.0" x2="519.6" y2="984.0" stroke="#DCDCDE" stroke-width="1.2"/>
<text transform="translate(86.50,989.00) scale(0.9200,1)" x="0" y="0" font-size="13.37" fill="#999999" text-anchor="end">40</text>
<line x1="94.1" y1="954.1" x2="519.6" y2="954.1" stroke="#DCDCDE" stroke-width="1.2"/>
<text transform="translate(86.50,959.10) scale(0.9200,1)" x="0" y="0" font-size="13.37" fill="#999999" text-anchor="end">60</text>
<line x1="94.1" y1="924.2" x2="519.6" y2="924.2" stroke="#DCDCDE" stroke-width="1.2"/>
<text transform="translate(86.50,929.20) scale(0.9200,1)" x="0" y="0" font-size="13.37" fill="#999999" text-anchor="end">80</text>
<line x1="94.1" y1="894.3" x2="519.6" y2="894.3" stroke="#DCDCDE" stroke-width="1.2"/>
<text transform="translate(86.50,899.30) scale(0.9200,1)" x="0" y="0" font-size="13.37" fill="#999999" text-anchor="end">100</text>
<line x1="94.1" y1="864.4" x2="519.6" y2="864.4" stroke="#DCDCDE" stroke-width="1.2"/>
<text transform="translate(86.50,869.40) scale(0.9200,1)" x="0" y="0" font-size="13.37" fill="#999999" text-anchor="end">120</text>
<line x1="94.1" y1="834.5" x2="519.6" y2="834.5" stroke="#DCDCDE" stroke-width="1.2"/>
<text transform="translate(86.50,839.50) scale(0.9200,1)" x="0" y="0" font-size="13.37" fill="#999999" text-anchor="end">140</text>
<line x1="94.1" y1="804.6" x2="519.6" y2="804.6" stroke="#DCDCDE" stroke-width="1.2"/>
<text transform="translate(86.50,809.60) scale(0.9200,1)" x="0" y="0" font-size="13.37" fill="#999999" text-anchor="end">160</text>
<text transform="translate(50.2,937.4) rotate(-90)" font-size="15" fill="#999999" text-anchor="middle">Hours</text>
<rect x="115.0" y="984.1" width="23.0" height="59.7" fill="#9BADF8"/>
<text transform="translate(126.50,1018.85) scale(0.9200,1)" x="0" y="0" font-size="12.50" fill="#1a1a1a" text-anchor="middle" stroke="#1a1a1a" stroke-width="0.2">40</text>
<rect x="115.0" y="938.0" width="23.0" height="46.1" fill="#5DF2CC"/>
<text transform="translate(126.50,965.95) scale(0.9200,1)" x="0" y="0" font-size="12.50" fill="#1a1a1a" text-anchor="middle" stroke="#1a1a1a" stroke-width="0.2">30</text>
<rect x="115.0" y="908.5" width="23.0" height="29.5" fill="#C9E1FB"/>
<text transform="translate(126.50,928.15) scale(0.9200,1)" x="0" y="0" font-size="12.50" fill="#1a1a1a" text-anchor="middle" stroke="#1a1a1a" stroke-width="0.2">20</text>
<rect x="115.0" y="879.2" width="23.0" height="29.3" fill="#74E9F8"/>
<text transform="translate(126.50,898.75) scale(0.9200,1)" x="0" y="0" font-size="12.50" fill="#1a1a1a" text-anchor="middle" stroke="#1a1a1a" stroke-width="0.2">22</text>
<rect x="115.0" y="819.0" width="23.0" height="60.2" fill="#FECAD5"/>
<text transform="translate(126.50,854.00) scale(0.9200,1)" x="0" y="0" font-size="12.50" fill="#1a1a1a" text-anchor="middle" stroke="#1a1a1a" stroke-width="0.2">40</text>
<text transform="translate(126.50,1067.70) scale(0.9500,1)" x="0" y="0" font-size="13.52" fill="#999999" text-anchor="middle">Project 1</text>
<rect x="183.8" y="1014.4" width="23.0" height="29.4" fill="#9BADF8"/>
<text transform="translate(195.30,1034.00) scale(0.9200,1)" x="0" y="0" font-size="12.50" fill="#1a1a1a" text-anchor="middle" stroke="#1a1a1a" stroke-width="0.2">20</text>
<rect x="183.8" y="952.8" width="23.0" height="61.6" fill="#5DF2CC"/>
<text transform="translate(195.30,988.50) scale(0.9200,1)" x="0" y="0" font-size="12.50" fill="#1a1a1a" text-anchor="middle" stroke="#1a1a1a" stroke-width="0.2">40</text>
<text transform="translate(195.30,1067.70) scale(0.9500,1)" x="0" y="0" font-size="13.52" fill="#999999" text-anchor="middle">Project 2</text>
<rect x="253.3" y="935.4" width="23.0" height="108.4" fill="#9BADF8"/>
<text transform="translate(264.80,994.50) scale(0.9200,1)" x="0" y="0" font-size="12.50" fill="#1a1a1a" text-anchor="middle" stroke="#1a1a1a" stroke-width="0.2">74</text>
<text transform="translate(264.80,1067.70) scale(0.9500,1)" x="0" y="0" font-size="13.52" fill="#999999" text-anchor="middle">Project 3</text>
<rect x="322.6" y="1018.4" width="23.0" height="25.4" fill="#9BADF8"/>
<text transform="translate(334.10,1036.00) scale(0.9200,1)" x="0" y="0" font-size="12.50" fill="#1a1a1a" text-anchor="middle" stroke="#1a1a1a" stroke-width="0.2">18</text>
<rect x="322.6" y="977.1" width="23.0" height="41.3" fill="#5DF2CC"/>
<text transform="translate(334.10,1002.65) scale(0.9200,1)" x="0" y="0" font-size="12.50" fill="#1a1a1a" text-anchor="middle" stroke="#1a1a1a" stroke-width="0.2">25</text>
<rect x="322.6" y="933.8" width="23.0" height="43.3" fill="#C9E1FB"/>
<text transform="translate(334.10,960.35) scale(0.9200,1)" x="0" y="0" font-size="12.50" fill="#1a1a1a" text-anchor="middle" stroke="#1a1a1a" stroke-width="0.2">31</text>
<text transform="translate(334.10,1067.70) scale(0.9500,1)" x="0" y="0" font-size="13.52" fill="#999999" text-anchor="middle">Project 4</text>
<rect x="393.1" y="1005.7" width="23.0" height="38.1" fill="#9BADF8"/>
<text transform="translate(404.60,1029.65) scale(0.9200,1)" x="0" y="0" font-size="12.50" fill="#1a1a1a" text-anchor="middle" stroke="#1a1a1a" stroke-width="0.2">25</text>
<rect x="393.1" y="960.9" width="23.0" height="44.8" fill="#5DF2CC"/>
<text transform="translate(404.60,988.20) scale(0.9200,1)" x="0" y="0" font-size="12.50" fill="#1a1a1a" text-anchor="middle" stroke="#1a1a1a" stroke-width="0.2">30</text>
<rect x="393.1" y="931.6" width="23.0" height="29.3" fill="#C9E1FB"/>
<text transform="translate(404.60,951.15) scale(0.9200,1)" x="0" y="0" font-size="12.50" fill="#1a1a1a" text-anchor="middle" stroke="#1a1a1a" stroke-width="0.2">25</text>
<text transform="translate(404.60,1067.70) scale(0.9500,1)" x="0" y="0" font-size="13.52" fill="#999999" text-anchor="middle">Project 5</text>
<rect x="463.1" y="1000.6" width="23.0" height="43.2" fill="#9BADF8"/>
<text transform="translate(474.60,1027.10) scale(0.9200,1)" x="0" y="0" font-size="12.50" fill="#1a1a1a" text-anchor="middle" stroke="#1a1a1a" stroke-width="0.2">28</text>
<rect x="463.1" y="974.5" width="23.0" height="26.1" fill="#5DF2CC"/>
<text transform="translate(474.60,992.45) scale(0.9200,1)" x="0" y="0" font-size="12.50" fill="#1a1a1a" text-anchor="middle" stroke="#1a1a1a" stroke-width="0.2">17</text>
<rect x="463.1" y="944.6" width="23.0" height="29.9" fill="#C9E1FB"/>
<text transform="translate(474.60,964.45) scale(0.9200,1)" x="0" y="0" font-size="12.50" fill="#1a1a1a" text-anchor="middle" stroke="#1a1a1a" stroke-width="0.2">22</text>
<text transform="translate(474.60,1067.70) scale(0.9500,1)" x="0" y="0" font-size="13.52" fill="#999999" text-anchor="middle">Project 6</text>
<text transform="translate(586.96,698.90) scale(0.8600,1)" x="0" y="0" textLength="266.34" lengthAdjust="spacing" font-size="15.70" fill="#111" stroke="#111" stroke-width="0.75">UTILIZATION BY BU AND TEAM</text>
<line x1="588.0" y1="715.3" x2="1465.0" y2="715.3" stroke="#D6D6D8" stroke-width="1.2"/>
<rect x="587.4" y="732.0" width="8.8" height="8.8" fill="#EE3B3B"/>
<text transform="translate(601.14,741.70) scale(0.9597,1)" x="0" y="0" textLength="132.64" lengthAdjust="spacing" font-size="15.70" fill="#848484" stroke="#848484" stroke-width="0.15">Greater than 100%</text>
<rect x="748.2" y="732.0" width="8.8" height="8.8" fill="#3BE86A"/>
<text transform="translate(761.41,741.70) scale(0.8600,1)" x="0" y="0" textLength="69.85" lengthAdjust="spacing" font-size="15.70" fill="#848484" stroke="#848484" stroke-width="0.15">80-100%</text>
<rect x="840.6" y="732.0" width="8.8" height="8.8" fill="#3B73E8"/>
<text transform="translate(853.77,741.70) scale(0.9558,1)" x="0" y="0" textLength="103.85" lengthAdjust="spacing" font-size="15.70" fill="#848484" stroke="#848484" stroke-width="0.15">Less than 80%</text>
<rect x="587.0" y="759.7" width="877.3" height="37.3" fill="#BFE6EE"/>
<text transform="translate(605.55,785.10) scale(0.9800,1)" x="0" y="0" textLength="56.52" lengthAdjust="spacing" font-size="18.02" fill="#1a1a1a">Details</text>
<text transform="translate(815.24,785.10) scale(0.9800,1)" x="0" y="0" textLength="102.75" lengthAdjust="spacing" font-size="18.02" fill="#1a1a1a">Utilization %</text>
<text transform="translate(948.52,785.10) scale(0.9599,1)" x="0" y="0" textLength="109.18" lengthAdjust="spacing" font-size="18.02" fill="#1a1a1a">Weekend Hrs</text>
<text transform="translate(1084.57,785.10) scale(0.9698,1)" x="0" y="0" textLength="58.12" lengthAdjust="spacing" font-size="18.02" fill="#1a1a1a">Leaves</text>
<text transform="translate(1173.06,785.10) scale(0.9761,1)" x="0" y="0" textLength="109.19" lengthAdjust="spacing" font-size="18.02" fill="#1a1a1a">No. of Project</text>
<text transform="translate(1311.97,785.10) scale(0.9649,1)" x="0" y="0" textLength="139.24" lengthAdjust="spacing" font-size="18.02" fill="#1a1a1a">No. of Resources</text>
<rect x="587.0" y="797.0" width="877.3" height="32.2" fill="#FFFFFF"/>
<line x1="591.5" y1="829.2" x2="1464.3" y2="829.2" stroke="#EAEAED" stroke-width="2"/>
<line x1="605.9" y1="813.6" x2="617.5" y2="813.6" stroke="#222" stroke-width="1.5"/>
<line x1="611.7" y1="807.8" x2="611.7" y2="819.4" stroke="#222" stroke-width="1.5"/>
<text transform="translate(633.40,820.20) scale(0.9629,1)" x="0" y="0" textLength="57.50" lengthAdjust="spacing" font-size="16.42" fill="#222">Biz Ops</text>
<text transform="translate(866.30,820.20) scale(0.9200,1)" x="0" y="0" font-size="16.42" fill="#F03A3A" text-anchor="middle">123%</text>
<text transform="translate(1000.80,820.20) scale(0.9200,1)" x="0" y="0" font-size="16.42" fill="#222" text-anchor="middle">16</text>
<text transform="translate(1113.00,820.20) scale(0.9200,1)" x="0" y="0" font-size="16.42" fill="#222" text-anchor="middle">32</text>
<text transform="translate(1227.00,820.20) scale(0.9200,1)" x="0" y="0" font-size="16.42" fill="#222" text-anchor="middle">7</text>
<text transform="translate(1379.40,820.20) scale(0.9200,1)" x="0" y="0" font-size="16.42" fill="#222" text-anchor="middle">1</text>
<rect x="587.0" y="829.2" width="877.3" height="32.3" fill="#F7FAFD"/>
<line x1="591.5" y1="861.5" x2="1464.3" y2="861.5" stroke="#EAEAED" stroke-width="2"/>
<line x1="605.9" y1="845.9" x2="617.5" y2="845.9" stroke="#222" stroke-width="1.5"/>
<line x1="611.7" y1="840.1" x2="611.7" y2="851.6" stroke="#222" stroke-width="1.5"/>
<text transform="translate(633.97,852.45) scale(0.9800,1)" x="0" y="0" textLength="63.23" lengthAdjust="spacing" font-size="16.42" fill="#222">Strategy</text>
<text transform="translate(866.30,852.45) scale(0.9200,1)" x="0" y="0" font-size="16.42" fill="#33E05A" text-anchor="middle">97%</text>
<text transform="translate(1000.80,852.45) scale(0.9200,1)" x="0" y="0" font-size="16.42" fill="#222" text-anchor="middle">12</text>
<text transform="translate(1113.00,852.45) scale(0.9200,1)" x="0" y="0" font-size="16.42" fill="#222" text-anchor="middle">16</text>
<text transform="translate(1227.00,852.45) scale(0.9200,1)" x="0" y="0" font-size="16.42" fill="#222" text-anchor="middle">2</text>
<text transform="translate(1379.40,852.45) scale(0.9200,1)" x="0" y="0" font-size="16.42" fill="#222" text-anchor="middle">3</text>
<rect x="587.0" y="861.5" width="877.3" height="32.5" fill="#F7FAFD"/>
<line x1="591.5" y1="894.0" x2="1464.3" y2="894.0" stroke="#EAEAED" stroke-width="2"/>
<line x1="605.9" y1="878.2" x2="617.5" y2="878.2" stroke="#222" stroke-width="1.5"/>
<line x1="611.7" y1="872.5" x2="611.7" y2="884.0" stroke="#222" stroke-width="1.5"/>
<text transform="translate(633.97,884.85) scale(0.9800,1)" x="0" y="0" textLength="123.78" lengthAdjust="spacing" font-size="16.42" fill="#222">Strategy &amp; Proc.</text>
<text transform="translate(866.30,884.85) scale(0.9200,1)" x="0" y="0" font-size="16.42" fill="#3C6FE6" text-anchor="middle">74%</text>
<text transform="translate(1000.80,884.85) scale(0.9200,1)" x="0" y="0" font-size="16.42" fill="#222" text-anchor="middle">24</text>
<text transform="translate(1113.00,884.85) scale(0.9200,1)" x="0" y="0" font-size="16.42" fill="#222" text-anchor="middle">8</text>
<text transform="translate(1227.00,884.85) scale(0.9200,1)" x="0" y="0" font-size="16.42" fill="#222" text-anchor="middle">3</text>
<text transform="translate(1379.40,884.85) scale(0.9200,1)" x="0" y="0" font-size="16.42" fill="#222" text-anchor="middle">4</text>
<rect x="587.0" y="894.0" width="877.3" height="32.2" fill="#FFFFFF"/>
<line x1="591.5" y1="926.2" x2="1464.3" y2="926.2" stroke="#EAEAED" stroke-width="2"/>
<line x1="607.9" y1="910.1" x2="615.5" y2="910.1" stroke="#222" stroke-width="1.6"/>
<text transform="translate(633.40,917.20) scale(0.8600,1)" x="0" y="0" textLength="16.66" lengthAdjust="spacing" font-size="16.42" fill="#222">IT</text>
<text transform="translate(866.30,917.20) scale(0.9200,1)" x="0" y="0" font-size="16.42" fill="#33E05A" text-anchor="middle">97%</text>
<text transform="translate(1000.80,917.20) scale(0.9200,1)" x="0" y="0" font-size="16.42" fill="#222" text-anchor="middle">24</text>
<text transform="translate(1113.00,917.20) scale(0.9200,1)" x="0" y="0" font-size="16.42" fill="#222" text-anchor="middle">24</text>
<text transform="translate(1227.00,917.20) scale(0.9200,1)" x="0" y="0" font-size="16.42" fill="#222" text-anchor="middle">15</text>
<text transform="translate(1379.40,917.20) scale(0.9200,1)" x="0" y="0" font-size="16.42" fill="#222" text-anchor="middle">30</text>
<rect x="587.0" y="926.2" width="877.3" height="32.0" fill="#F7FAFD"/>
<line x1="591.5" y1="958.2" x2="1464.3" y2="958.2" stroke="#EAEAED" stroke-width="2"/>
<text transform="translate(656.86,949.30) scale(0.9800,1)" x="0" y="0" textLength="120.19" lengthAdjust="spacing" font-size="16.42" fill="#7a7a7a">UX &amp; Innovation</text>
<text transform="translate(866.30,949.30) scale(0.9200,1)" x="0" y="0" font-size="16.42" fill="#3C6FE6" text-anchor="middle">30%</text>
<text transform="translate(1000.80,949.30) scale(0.9200,1)" x="0" y="0" font-size="16.42" fill="#8f8f8f" text-anchor="middle">8</text>
<text transform="translate(1113.00,949.30) scale(0.9200,1)" x="0" y="0" font-size="16.42" fill="#8f8f8f" text-anchor="middle">8</text>
<text transform="translate(1227.00,949.30) scale(0.9200,1)" x="0" y="0" font-size="16.42" fill="#8f8f8f" text-anchor="middle">5</text>
<text transform="translate(1379.40,949.30) scale(0.9200,1)" x="0" y="0" font-size="16.42" fill="#8f8f8f" text-anchor="middle">10</text>
<rect x="587.0" y="958.2" width="877.3" height="31.5" fill="#FFFFFF"/>
<line x1="587.8" y1="989.7" x2="1464.3" y2="989.7" stroke="#EAEAED" stroke-width="2"/>
<text transform="translate(656.61,981.05) scale(0.9800,1)" x="0" y="0" textLength="106.53" lengthAdjust="spacing" font-size="16.42" fill="#7a7a7a">Infrastructure</text>
<text transform="translate(866.30,981.05) scale(0.9200,1)" x="0" y="0" font-size="16.42" fill="#3C6FE6" text-anchor="middle">40%</text>
<text transform="translate(1000.80,981.05) scale(0.9200,1)" x="0" y="0" font-size="16.42" fill="#8f8f8f" text-anchor="middle">8</text>
<text transform="translate(1113.00,981.05) scale(0.9200,1)" x="0" y="0" font-size="16.42" fill="#8f8f8f" text-anchor="middle">8</text>
<text transform="translate(1227.00,981.05) scale(0.9200,1)" x="0" y="0" font-size="16.42" fill="#8f8f8f" text-anchor="middle">5</text>
<text transform="translate(1379.40,981.05) scale(0.9200,1)" x="0" y="0" font-size="16.42" fill="#8f8f8f" text-anchor="middle">10</text>
<rect x="587.0" y="989.7" width="877.3" height="33.5" fill="#FFFFFF"/>
<line x1="587.8" y1="1023.2" x2="1464.3" y2="1023.2" stroke="#EAEAED" stroke-width="2"/>
<text transform="translate(658.07,1013.55) scale(0.9800,1)" x="0" y="0" textLength="84.16" lengthAdjust="spacing" font-size="16.42" fill="#7a7a7a">Application</text>
<text transform="translate(866.30,1013.55) scale(0.9200,1)" x="0" y="0" font-size="16.42" fill="#3C6FE6" text-anchor="middle">27%</text>
<text transform="translate(1000.80,1013.55) scale(0.9200,1)" x="0" y="0" font-size="16.42" fill="#8f8f8f" text-anchor="middle">8</text>
<text transform="translate(1113.00,1013.55) scale(0.9200,1)" x="0" y="0" font-size="16.42" fill="#8f8f8f" text-anchor="middle">8</text>
<text transform="translate(1227.00,1013.55) scale(0.9200,1)" x="0" y="0" font-size="16.42" fill="#8f8f8f" text-anchor="middle">5</text>
<text transform="translate(1379.40,1013.55) scale(0.9200,1)" x="0" y="0" font-size="16.42" fill="#8f8f8f" text-anchor="middle">10</text>
<rect x="587.0" y="1023.2" width="877.3" height="31.8" fill="#F7FAFD"/>
<line x1="587.8" y1="1055.0" x2="1464.3" y2="1055.0" stroke="#EAEAED" stroke-width="2"/>
<line x1="605.9" y1="1039.6" x2="617.5" y2="1039.6" stroke="#222" stroke-width="1.5"/>
<line x1="611.7" y1="1033.8" x2="611.7" y2="1045.4" stroke="#222" stroke-width="1.5"/>
<text transform="translate(633.88,1046.20) scale(0.9800,1)" x="0" y="0" textLength="92.14" lengthAdjust="spacing" font-size="16.42" fill="#222">Commercial</text>
<text transform="translate(866.30,1046.20) scale(0.9200,1)" x="0" y="0" font-size="16.42" fill="#33E05A" text-anchor="middle">97%</text>
<text transform="translate(1000.80,1046.20) scale(0.9200,1)" x="0" y="0" font-size="16.42" fill="#222" text-anchor="middle">0</text>
<text transform="translate(1113.00,1046.20) scale(0.9200,1)" x="0" y="0" font-size="16.42" fill="#222" text-anchor="middle">16</text>
<text transform="translate(1227.00,1046.20) scale(0.9200,1)" x="0" y="0" font-size="16.42" fill="#222" text-anchor="middle">10</text>
<text transform="translate(1379.40,1046.20) scale(0.9200,1)" x="0" y="0" font-size="16.42" fill="#222" text-anchor="middle">5</text>
<line x1="587.5" y1="797.0" x2="587.5" y2="1055.0" stroke="#EEEEF2" stroke-width="1"/>
<line x1="1463.8" y1="797.0" x2="1463.8" y2="1055.0" stroke="#EEEEF2" stroke-width="1"/>
<rect x="587.0" y="1055.0" width="877.3" height="37.8" fill="#EEEDF0"/>
<text transform="translate(606.10,1081.70) scale(0.9647,1)" x="0" y="0" textLength="40.71" lengthAdjust="spacing" font-size="18.31" fill="#111">Total</text>
<text transform="translate(866.30,1081.70) scale(0.9200,1)" x="0" y="0" font-size="18.31" fill="#111" text-anchor="middle">220</text>
<text transform="translate(1000.80,1081.70) scale(0.9200,1)" x="0" y="0" font-size="18.31" fill="#111" text-anchor="middle">100</text>
<text transform="translate(1113.00,1081.70) scale(0.9200,1)" x="0" y="0" font-size="18.31" fill="#111" text-anchor="middle">120</text>
<text transform="translate(1227.00,1081.70) scale(0.9200,1)" x="0" y="0" font-size="18.31" fill="#111" text-anchor="middle">37</text>
<text transform="translate(1379.40,1081.70) scale(0.9200,1)" x="0" y="0" font-size="18.31" fill="#111" text-anchor="middle">43</text>
</svg>
</body></html>
